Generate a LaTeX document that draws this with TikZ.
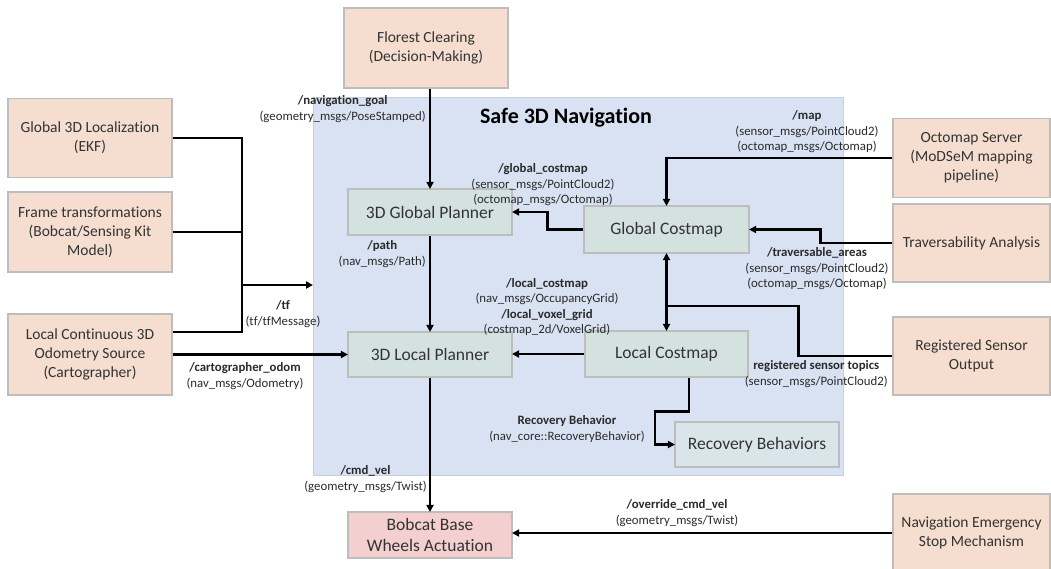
\documentclass[tikz,border=0pt]{standalone}
\usepackage{fontspec}
\setmainfont{Carlito}[Ligatures={NoCommon}]
\usetikzlibrary{arrows.meta,calc}

\definecolor{peach}{HTML}{F5DDCF}
\definecolor{modfill}{HTML}{D3E2DF}
\definecolor{recfill}{HTML}{DAE5E9}
\definecolor{bobfill}{HTML}{F3CFCF}
\definecolor{navfill}{HTML}{D9E2F3}
\definecolor{navline}{HTML}{C8CEDA}
\definecolor{boxline}{HTML}{BDBDBD}
\definecolor{boxtext}{HTML}{333333}
\definecolor{lbltext}{HTML}{2A2A2A}

\newcommand{\boxfont}{\fontsize{15.5}{19}\selectfont}
\newcommand{\modfont}{\fontsize{17.5}{21}\selectfont}
\newcommand{\lblfont}{\fontsize{12.8}{15.5}\selectfont}

\tikzset{
  src/.style={draw=boxline, line width=1.1pt, fill=peach, minimum width=164pt,
    minimum height=79pt, inner sep=0pt, align=center, font=\boxfont, text=boxtext},
  rsrc/.style={src, minimum width=157pt},
  mod/.style={draw=boxline, line width=1.1pt, fill=modfill, minimum width=164pt,
    minimum height=46pt, inner sep=0pt, align=center, font=\modfont, text=boxtext},
  navarea/.style={draw=navline, line width=1pt, fill=navfill, minimum width=530pt,
    minimum height=378pt, inner sep=0pt},
  lbl/.style={align=center, inner sep=0pt, font=\lblfont, text=lbltext},
  wire/.style={line width=2.5pt, black, line join=miter},
  arr/.style={wire, -{Triangle[length=7pt,width=7pt]}, shorten >=-0.5pt},
  thinarr/.style={arr, line width=2pt},
}

\begin{document}
\begin{tikzpicture}[x=1pt,y=-1pt]
\useasboundingbox (0,0) rectangle (1051,568);

% navigation stack area
\node[navarea] (nav) at (578,286) {};
\node[font=\fontsize{22}{26}\selectfont\bfseries, text=black] (title) at (566,118) {Safe 3D Navigation};

% external sources
\node[src] (glob)  at (90,138)   {Global 3D Localization\\(EKF)};
\node[src, minimum height=80pt] (frame) at (90,232) {Frame transformations\\(Bobcat/Sensing Kit\\Model)};
\node[src, minimum height=81pt] (odo)   at (90,354.5) {Local Continuous 3D\\Odometry Source\\(Cartographer)};
\node[src, minimum height=80pt] (flor)  at (426,48)  {Florest Clearing\\(Decision-Making)};
\node[rsrc] (octo)  at (971.5,158) {Octomap Server\\(MoDSeM mapping\\pipeline)};
\node[rsrc, minimum height=78pt] (trav)  at (971.5,243) {Traversability Analysis};
\node[rsrc, minimum height=78pt] (reg)   at (971.5,356) {Registered Sensor\\Output};
\node[rsrc, minimum height=78pt] (emer)  at (971.5,533) {Navigation Emergency\\Stop Mechanism};

% navigation modules
\node[mod] (gp) at (430,212)     {3D Global Planner};
\node[mod, minimum width=165pt, minimum height=47pt] (gc) at (666.5,229.5) {Global Costmap};
\node[mod, minimum height=45pt] (lp) at (430,354.5)   {3D Local Planner};
\node[mod, minimum width=163pt] (lc) at (666.5,354) {Local Costmap};
\node[mod, fill=recfill, minimum height=45pt] (rb) at (757,444.5) {Recovery Behaviors};
\node[mod, fill=bobfill] (bob) at (430,535) {Bobcat Base\\Wheels Actuation};

% tf bus
\coordinate (busx) at (242,285);
\coordinate (rj) at (666.5,306);
\draw[wire] (glob.east) -| (242,332) -- ($(odo.east)+(0,-22.5)$);
\draw[wire] (frame.east) -- (frame.east -| busx);
\draw[arr] (busx) -- (busx -| nav.west);

% topic connections
\draw[arr] (flor.south -| gp.north) -- (gp.north);
\draw[arr] (gp.south) -- (lp.north);
\draw[arr] (lp.south) -- (bob.north);
\draw[arr] (odo.east) -- (odo.east -| lp.west);
\draw[arr] (lc.west) -- (lc.west -| lp.east);
\draw[arr] (gc.west) -- ++(-36,0) |- (gp.east);
\draw[arr] (octo.west) -| (gc.north);
\draw[arr] (trav.west) -- ++(-72,0) |- (gc.east);
\draw[wire] (reg.west) -- ++(-94,0) |- (rj);
\draw[arr] (rj) -- (gc.south);
\draw[arr] (rj) -- (lc.north);
\draw[arr] ($(lc.south)+(22.5,0)$) -- ++(0,34) -- ++(-34,0) |- (rb.west);
\draw[thinarr] (emer.west) -- (emer.west -| bob.east);

% topic labels
\node[lbl, anchor=east] (lgoal) at (426,109) {\textbf{/navigation\_goal}\\(geometry\_msgs/PoseStamped)};
\node[lbl] (ltf) at (283,314) {\textbf{/tf}\\(tf/tfMessage)};
\node[lbl] (lodom) at (245,376) {\textbf{/cartographer\_odom}\\(nav\_msgs/Odometry)};
\node[lbl, anchor=east] (lpath) at (426,254) {\textbf{/path}\\(nav\_msgs/Path)};
\node[lbl, anchor=east] (lcmd) at (427,479) {\textbf{/cmd\_vel}\\(geometry\_msgs/Twist)};
\node[lbl] (lgc) at (543,185) {\textbf{/global\_costmap}\\(sensor\_msgs/PointCloud2)\\(octomap\_msgs/Octomap)};
\node[lbl] (lmap) at (807,132) {\textbf{/map}\\(sensor\_msgs/PointCloud2)\\(octomap\_msgs/Octomap)};
\node[lbl] (ltrav) at (817,269) {\textbf{/traversable\_areas}\\(sensor\_msgs/PointCloud2)\\(octomap\_msgs/Octomap)};
\node[lbl] (llc) at (547,307) {\textbf{/local\_costmap}\\(nav\_msgs/OccupancyGrid)\\\textbf{/local\_voxel\_grid}\\(costmap\_2d/VoxelGrid)};
\node[lbl, anchor=east] (lreg) at (888,374) {\textbf{registered sensor topics}\\(sensor\_msgs/PointCloud2)};
\node[lbl] (lrec) at (567,429) {\textbf{Recovery Behavior}\\(nav\_core::RecoveryBehavior)};
\node[lbl] (lover) at (677,513) {\textbf{/override\_cmd\_vel}\\(geometry\_msgs/Twist)};
\end{tikzpicture}
\end{document}
